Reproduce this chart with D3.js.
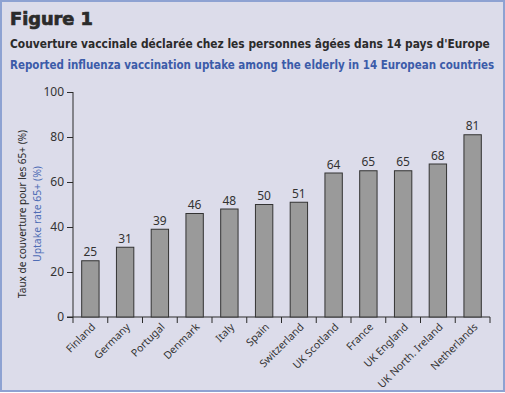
<!DOCTYPE html>
<html><head><meta charset="utf-8">
<script src="https://cdn.jsdelivr.net/npm/d3@7"></script>
<style>
html,body{margin:0;padding:0;background:#fff}
svg{display:block}
.tick text{font-family:"Noto Sans",sans-serif;font-size:12px;fill:#333}
</style></head>
<body><div id="chart"></div>
<script>
const countries = ["Finland", "Germany", "Portugal", "Denmark", "Italy", "Spain", "Switzerland", "UK Scotland", "France", "UK England", "UK North. Ireland", "Netherlands"];
const uptake = [25, 31, 39, 46, 48, 50, 51, 64, 65, 65, 68, 81];
const yTicks = [0, 20, 40, 60, 80, 100];
const titleFig = "Figure 1";
const titleFr = "Couverture vaccinale déclarée chez les personnes âgées dans 14 pays d'Europe";
const titleEn = "Reported influenza vaccination uptake among the elderly in 14 European countries";
const yLabelFr = "Taux de couverture pour les 65+ (%)", yLabelEn = "Uptake rate 65+ (%)";

const W = 505, H = 393, BLUE = "#3b5ba9", INK = "#2b2b2b";
const svg = d3.select("#chart").append("svg").attr("width", W).attr("height", H);
svg.append("rect").attr("x", 1).attr("y", 1).attr("width", W - 2).attr("height", H - 3).attr("fill", "#dcdcea").attr("stroke", "#8ea2d2").attr("stroke-width", 2);

// squeeze a text horizontally so it spans exactly w pixels
function fitText(sel, x0, y0, w) { const n = sel.node().getComputedTextLength(); sel.attr("transform", `translate(${x0},${y0}) scale(${w / n},1)`) }
fitText(svg.append("text").text(titleFig).attr("font-family", "'DejaVu Sans',sans-serif").attr("font-weight", 900).attr("font-size", 17).attr("fill", INK).attr("stroke", INK).attr("stroke-width", 0.7), 10, 25, 83);
fitText(svg.append("text").text(titleFr).attr("font-family", "'DejaVu Sans Condensed','DejaVu Sans',sans-serif").attr("font-weight", "bold").attr("font-size", 13).attr("fill", INK), 10, 47.5, 480);
fitText(svg.append("text").text(titleEn).attr("font-family", "'DejaVu Sans Condensed','DejaVu Sans',sans-serif").attr("font-weight", "bold").attr("font-size", 13).attr("fill", BLUE), 10, 69, 485);

const x = d3.scaleBand().domain(countries).range([73, 490]).paddingInner(0.5).paddingOuter(0.25);
const y = d3.scaleLinear().domain([0, 100]).range([317, 92]);

const yAx = svg.append("g").attr("transform", "translate(73,0)").call(d3.axisLeft(y).tickValues(yTicks).tickSize(6).tickPadding(3));
yAx.select(".domain").attr("stroke", INK).attr("d", `M0,${y(100)}V${y(0)}`);
yAx.selectAll(".tick line").attr("stroke", INK);

const xg = svg.append("g");
xg.append("line").attr("x1", 67).attr("x2", 490).attr("y1", y(0)).attr("y2", y(0)).attr("stroke", INK);
xg.selectAll("line.tk").data(d3.range(countries.length + 1)).join("line").attr("class", "tk")
  .attr("x1", i => x.range()[0] + i * x.step()).attr("x2", i => x.range()[0] + i * x.step())
  .attr("y1", y(0)).attr("y2", y(0) + 6).attr("stroke", INK);
xg.selectAll("text").data(countries).join("text")
  .attr("transform", d => `translate(${x(d) + x.bandwidth() / 2 + 3},${y(0) + 8}) rotate(-45)`)
  .attr("text-anchor", "end").attr("dy", "0.35em").text(d => d)
  .attr("font-family", "'Noto Sans',sans-serif").attr("font-size", 10.5).attr("fill", "#333");

svg.selectAll("rect.bar").data(uptake).join("rect").attr("class", "bar")
  .attr("x", (d, i) => x(countries[i])).attr("width", x.bandwidth())
  .attr("y", d => y(d)).attr("height", d => y(0) - y(d))
  .attr("fill", "#9a9a9a").attr("stroke", "#333").attr("stroke-width", 1);
svg.selectAll("text.val").data(uptake).join("text").attr("class", "val")
  .attr("x", (d, i) => x(countries[i]) + x.bandwidth() / 2).attr("y", d => y(d) - 4.5)
  .attr("text-anchor", "middle").text(d => d)
  .attr("font-family", "'Noto Sans',sans-serif").attr("font-size", 12).attr("fill", "#333");

svg.append("text").attr("transform", "translate(26,214) rotate(-90)").attr("text-anchor", "middle").text(yLabelFr)
  .attr("font-family", "'Noto Sans',sans-serif").attr("font-size", 11).attr("fill", INK).attr("textLength", 168).attr("lengthAdjust", "spacingAndGlyphs");
svg.append("text").attr("transform", "translate(41,214) rotate(-90)").attr("text-anchor", "middle").text(yLabelEn)
  .attr("font-family", "'Noto Sans',sans-serif").attr("font-size", 11).attr("fill", "#4f6db5").attr("textLength", 96).attr("lengthAdjust", "spacingAndGlyphs");
</script></body></html>
